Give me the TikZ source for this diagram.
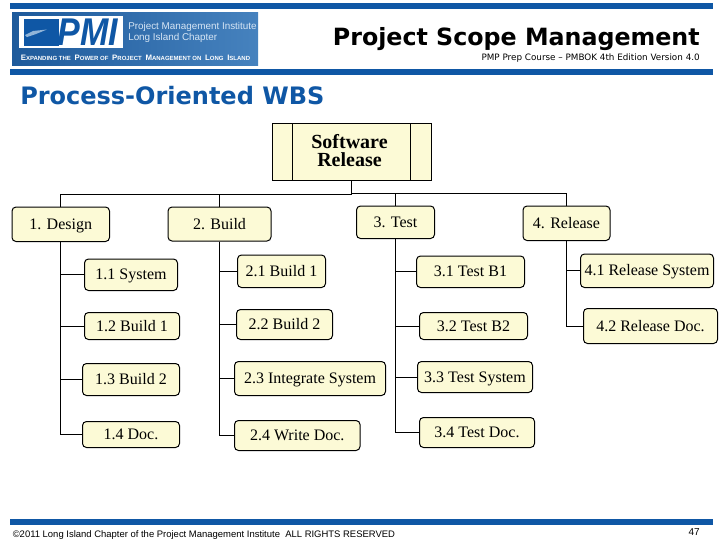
\documentclass[tikz,border=0pt]{standalone}
\usepackage{fontspec}
\setmainfont{Liberation Serif}
\newfontfamily\headFont{DejaVu Sans}
\newfontfamily\smallFont{Liberation Sans}
\definecolor{barColor}{RGB}{15,87,165}
\definecolor{boxColor}{RGB}{252,250,214}
\definecolor{logoDark}{RGB}{30,90,155}
\definecolor{logoLight}{RGB}{70,130,190}
\definecolor{logoText}{RGB}{215,230,245}
\tikzstyle{slide} = [x = .75pt, y = -.75pt]
\tikzstyle{barStyle} = [fill=barColor, draw=none]
\tikzstyle{wbsLine} = [color=black, line width=.75pt]
\tikzstyle{wbsBoxStyle} = [draw=black, fill=boxColor, line width=.75pt, rounded corners=3pt, inner sep=0pt, text height=8.5pt, text depth=1pt, font=\fontsize{12}{14}\selectfont]
\tikzstyle{rootStyle} = [draw=black, fill=boxColor, line width=.75pt, inner sep=0pt]
\tikzstyle{rootText} = [inner sep=0pt, align=center, font=\bfseries\fontsize{15}{13.5}\selectfont]
\tikzstyle{plainText} = [inner sep=0pt]
\newcommand{\horizontalBar}[2]{\fill [barStyle] (10, #1) rectangle (713, #2);}
\newcommand{\wbsBox}[6]{\node [wbsBoxStyle, minimum width={(#3-#2)*.75pt}, minimum height={(#5-#4)*.75pt}] (#1) at ({(#2+#3)/2}, {(#4+#5)/2}) {#6};}
\newcommand{\logoCap}[2]{{\fontsize{5.9}{8}\selectfont #1}{\fontsize{4.5}{8}\selectfont #2}}
\begin{document}
\begin{tikzpicture}[slide]
  \useasboundingbox (0,0) rectangle (720,540);
  \fill [white] (0,0) rectangle (720,540);
  \horizontalBar{3.3}{8.7}
  \horizontalBar{69}{74.7}
  \horizontalBar{519}{524.7}

  \shade [left color=logoDark, right color=logoLight] (12,12.3) rectangle (258,65.7);
  \fill [white] (19,16.3) rectangle (122.5,48);
  \fill [barColor] (24,18.5) rectangle (59,46);
  \fill [logoLight!60!white] (25,35) -- (33,31) -- (47,29.5) -- (36,34) -- (27,37) -- cycle;
  \node [plainText, xscale=.88, transform shape, text=barColor, font=\smallFont\bfseries\itshape\fontsize{29}{29}\selectfont] (logoLetters) at (88,32) {PMI};
  \node [plainText, anchor=west, text=logoText, font=\smallFont\fontsize{7.4}{9}\selectfont] (logoNameOne) at (128,26.5) {Project Management Institute};
  \node [plainText, anchor=west, text=logoText, font=\smallFont\fontsize{7.4}{9}\selectfont] (logoNameTwo) at (128,38) {Long Island Chapter};
  \node [plainText, anchor=west, text=white, font=\smallFont\bfseries] (logoMotto) at (20.5,57.5) {\logoCap{E}{XPANDING THE} \logoCap{P}{OWER OF} \logoCap{P}{ROJECT} \logoCap{M}{ANAGEMENT ON} \logoCap{L}{ONG} \logoCap{I}{SLAND}};

  \node [plainText, anchor=base east, font=\headFont\bfseries\fontsize{17.8}{20}\selectfont] (slideTitle) at (700,45) {Project Scope Management};
  \node [plainText, anchor=base east, font=\headFont\fontsize{6.6}{8}\selectfont] (courseLine) at (700,60) {PMP Prep Course – PMBOK 4th Edition Version 4.0};
  \node [plainText, anchor=base west, text=barColor, font=\headFont\bfseries\fontsize{18}{20}\selectfont] (wbsTitle) at (20,104.5) {Process-Oriented WBS};
  \node [plainText, anchor=base west, font=\smallFont\fontsize{7.1}{8}\selectfont] (copyrightLine) at (12.5,537) {\copyright2011 Long Island Chapter of the Project Management Institute\ \ ALL RIGHTS RESERVED};
  \node [plainText, anchor=base east, font=\smallFont\fontsize{7.5}{9}\selectfont] (pageNumber) at (700,535) {47};

  \node [rootStyle, minimum width=118.9pt, minimum height=42.75pt] (root) at (351.75,152) {};
  \node [rootText] (rootLabel) at (349.5,151) {Software\\Release};
  \draw [wbsLine] (292.5,123.5) -- (292.5,180.5);
  \draw [wbsLine] (410.5,123.5) -- (410.5,180.5);

  \wbsBox{design}{12}{109.5}{207}{241.5}{1. Design}
  \wbsBox{build}{168}{271}{207}{241}{2. Build}
  \wbsBox{test}{356.5}{434.5}{206}{238.5}{3. Test}
  \wbsBox{release}{523}{610}{206}{240.5}{4. Release}

  \wbsBox{designOne}{84.5}{177.5}{259}{290.5}{1.1 System}
  \wbsBox{designTwo}{84.5}{179.5}{312.5}{339.5}{1.2 Build 1}
  \wbsBox{designThree}{82.5}{179.5}{363.5}{395.5}{1.3 Build 2}
  \wbsBox{designFour}{82.5}{179.5}{421.5}{447.5}{1.4 Doc.}
  \wbsBox{buildOne}{237.5}{325.5}{255}{287.5}{2.1 Build 1}
  \wbsBox{buildTwo}{236.5}{332.5}{309.5}{339.5}{2.2 Build 2}
  \wbsBox{buildThree}{234.5}{385.5}{361.5}{395.5}{2.3 Integrate System}
  \wbsBox{buildFour}{234.5}{360}{420.5}{450.5}{2.4 Write Doc.}
  \wbsBox{testOne}{416.5}{524.5}{256}{287.5}{3.1 Test B1}
  \wbsBox{testTwo}{419.5}{527.5}{312.5}{339.5}{3.2 Test B2}
  \wbsBox{testThree}{417.5}{532.5}{361.5}{392.5}{3.3 Test System}
  \wbsBox{testFour}{419.5}{534.5}{417.5}{447.5}{3.4 Test Doc.}
  \wbsBox{releaseOne}{580.5}{713.5}{254}{287.5}{4.1 Release System}
  \wbsBox{releaseTwo}{583.5}{717.5}{308.5}{343.5}{4.2 Release Doc.}

  \coordinate (busLeft) at (351.75,194.5);
  \coordinate (busRight) at (351.75,193.5);
  \draw [wbsLine] (root.south) -- (busLeft) -| (design.north);
  \draw [wbsLine] (busLeft) -| (build.north);
  \draw [wbsLine] (busRight) -| (test.north);
  \draw [wbsLine] (busRight) -| (release.north);
  \foreach \child in {designOne,designTwo,designThree,designFour} {
    \draw [wbsLine] (design.south) |- (\child.west);
  }
  \foreach \child in {buildOne,buildTwo,buildThree,buildFour} {
    \draw [wbsLine] (build.south) |- (\child.west);
  }
  \foreach \child in {testOne,testTwo,testThree,testFour} {
    \draw [wbsLine] (test.south) |- (\child.west);
  }
  \foreach \child in {releaseOne,releaseTwo} {
    \draw [wbsLine] (release.south) |- (\child.west);
  }
\end{tikzpicture}
\end{document}
